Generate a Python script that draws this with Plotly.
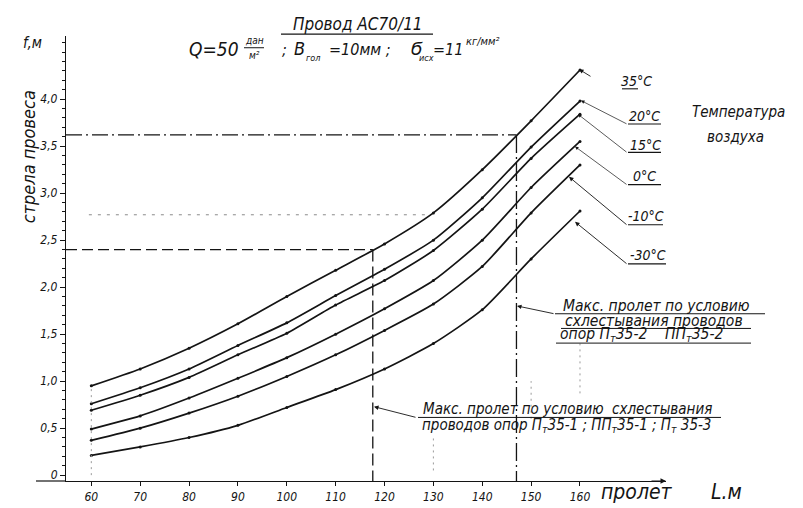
import plotly.graph_objects as go

# ---------------- data ----------------
spans = [60, 70, 80, 90, 100, 110, 120, 130, 140, 150, 160]
temp_labels = ["35°C", "20°C", "15°C", "0°C", "-10°C", "-30°C"]
sag_p35 = [0.95, 1.13, 1.35, 1.61, 1.90, 2.18, 2.46, 2.79, 3.25, 3.77, 4.31]
sag_p20 = [0.76, 0.93, 1.13, 1.38, 1.62, 1.91, 2.19, 2.50, 2.95, 3.49, 3.98]
sag_p15 = [0.69, 0.85, 1.04, 1.28, 1.51, 1.81, 2.07, 2.39, 2.83, 3.37, 3.84]
sag_0 = [0.49, 0.63, 0.82, 1.03, 1.25, 1.50, 1.77, 2.07, 2.50, 3.06, 3.55]
sag_m10 = [0.37, 0.50, 0.66, 0.84, 1.05, 1.28, 1.54, 1.82, 2.22, 2.79, 3.30]
sag_m30 = [0.21, 0.30, 0.40, 0.53, 0.72, 0.91, 1.13, 1.40, 1.76, 2.30, 2.81]

x_ticks = [60, 70, 80, 90, 100, 110, 120, 130, 140, 150, 160]
x_ticklabels = ["60", "70", "80", "90", "100", "110", "120", "130", "140", "150", "160"]
y_ticks = [0, 0.5, 1.0, 1.5, 2.0, 2.5, 3.0, 3.5, 4.0]
y_ticklabels = ["0", "0,5", "1,0", "1,5", "2,0", "2,5", "3,0", "3,5", "4,0"]

# max span limits (span, sag)
limit_span_a = 117.6
limit_sag_a = 2.40
limit_span_b = 147.0
limit_sag_b = 3.62
aux_span = 128.9
aux_sag = 2.77

# ---------------- layout helpers ----------------
W, H = 803, 508
L_, R_, T_, B_ = 58, 145, 28, 25
PW = W - L_ - R_
PH = H - T_ - B_
X_RANGE = [54.82, 177.6]
Y_RANGE = [-0.0624, 4.672]


def px(x):
    return (x - L_) / PW


def py(y):
    return (H - B_ - y) / PH


FONT = "DejaVu Sans Condensed, DejaVu Sans, sans-serif"
INK = "#141414"


def f(size, color=INK):
    return dict(family=FONT, size=size, color=color, style="italic")


fig = go.Figure()

series = [sag_p35, sag_p20, sag_p15, sag_0, sag_m10, sag_m30]
for name, vals in zip(temp_labels, series):
    fig.add_trace(go.Scatter(
        x=spans, y=vals, name=name, mode="lines+markers",
        line=dict(color=INK, width=1.7, shape="spline", smoothing=0.6),
        marker=dict(size=3, color=INK),
        showlegend=False, hoverinfo="skip"))

shapes = []
# reference lines
shapes.append(dict(type="line", xref="x", yref="y", x0=X_RANGE[0], x1=limit_span_b,
                   y0=limit_sag_b, y1=limit_sag_b,
                   line=dict(color=INK, width=1.1, dash="16px,4px,2px,4px")))
shapes.append(dict(type="line", xref="x", yref="y", x0=limit_span_b, x1=limit_span_b,
                   y0=limit_sag_b, y1=Y_RANGE[0],
                   line=dict(color=INK, width=1.3, dash="18px,4px,2px,4px")))
shapes.append(dict(type="line", xref="x", yref="y", x0=X_RANGE[0], x1=limit_span_a,
                   y0=limit_sag_a, y1=limit_sag_a,
                   line=dict(color=INK, width=1.3, dash="11px,5px")))
shapes.append(dict(type="line", xref="x", yref="y", x0=limit_span_a, x1=limit_span_a,
                   y0=limit_sag_a, y1=Y_RANGE[0],
                   line=dict(color=INK, width=1.3, dash="12px,5px")))
shapes.append(dict(type="line", xref="x", yref="y", x0=spans[0] - 0.5, x1=aux_span,
                   y0=aux_sag, y1=aux_sag,
                   line=dict(color="#8a8a8a", width=1, dash="3px,6px")))
# faint construction verticals
for xv, ya, yb in [(spans[0], 0, sag_p35[0]), (130, 0.05, 0.40), (160, 0.87, 1.40), (150, 0.60, 1.00)]:
    shapes.append(dict(type="line", xref="x", yref="y", x0=xv, x1=xv, y0=ya, y1=yb,
                       line=dict(color="#9a9a9a", width=1, dash="2px,4px")))

# x-axis extension to the left
shapes.append(dict(type="line", xref="paper", yref="paper", x0=px(28), x1=0, y0=0, y1=0,
                   line=dict(color=INK, width=1.2)))

# title underline
shapes.append(dict(type="line", xref="paper", yref="paper", x0=px(273), x1=px(425),
                   y0=py(26), y1=py(26), line=dict(color=INK, width=1.2)))
# fraction bar дан/м²
shapes.append(dict(type="line", xref="paper", yref="paper", x0=px(236), x1=px(256),
                   y0=py(40), y1=py(40), line=dict(color=INK, width=1)))

# legend underlines (pixel positions)
for x0, x1, yy in [(614, 630, 82), (620, 653, 118), (620, 653, 147), (620, 653, 180),
                   (620, 655, 221), (620, 658, 261)]:
    shapes.append(dict(type="line", xref="paper", yref="paper", x0=px(x0), x1=px(x1),
                       y0=py(yy), y1=py(yy), line=dict(color=INK, width=1.1)))

# note underlines
for x0, x1, yy in [(547, 757, 312), (553, 743, 327), (548, 743, 342), (410, 713, 418)]:
    shapes.append(dict(type="line", xref="paper", yref="paper", x0=px(x0), x1=px(x1),
                       y0=py(yy), y1=py(yy), line=dict(color=INK, width=1)))

ann = []


def text(s, x, y, size, xanchor="center", angle=0, color=INK):
    ann.append(dict(text=s, xref="paper", yref="paper", x=px(x), y=py(y),
                    xanchor=xanchor, yanchor="middle", showarrow=False,
                    font=f(size, color), textangle=angle))


def arrow(tip, tail, width=0.9, head=2):
    ann.append(dict(text="", xref="paper", yref="paper", x=px(tip[0]), y=py(tip[1]),
                    ax=tail[0] - tip[0], ay=tail[1] - tip[1], axref="pixel", ayref="pixel",
                    showarrow=True, arrowhead=head, arrowsize=1, arrowwidth=width,
                    arrowcolor=INK))


# title block
text("Провод АС70/11", 350, 16, 17)
text("Q=50", 206, 41, 19)
text("дан", 246, 33, 10)
text("м²", 246, 48, 10)
text(";", 276, 42, 16)
text("В", 291, 41, 18)
text("гол", 305, 50, 9)
text("=10мм ;", 352, 42, 16)
text("Ϭ", 409, 41, 18)
text("исх", 418, 51, 9)
text("=11", 440, 42, 16)
text("кг/мм²", 474, 34, 11)

# axis titles
text("f,м", 24, 35, 15)
text("стрела провеса", 20, 152, 18, angle=-90)
text("пролет", 629, 494, 21)
text("L.м", 718, 494, 21)

# temperature labels
text("35°C", 628, 74, 14)
text("20°C", 636, 110, 14)
text("15°C", 637, 139, 14)
text("0°C", 636, 171, 14)
text("-10°C", 638, 212, 14)
text("-30°C", 640, 252, 14)
text("Температура", 682, 106, 15, xanchor="left")
text("воздуха", 697, 131, 15, xanchor="left")

arrow((571, 62), (584, 70))
arrow((573, 94), (620, 118), 0.7)
arrow((570, 108), (620, 147), 0.7)
arrow((567, 141), (620, 180), 0.7)
arrow((561, 172), (620, 221), 0.9)
arrow((567, 218), (620, 261), 0.9)

# notes
text("Макс. пролет по условию", 553, 304, 15.5, xanchor="left")
text("схлестывания проводов", 555, 319, 15.5, xanchor="left")
text("опор П<sub>т</sub>35-2    ПП<sub>т</sub>35-2", 550, 334, 15.5, xanchor="left")
arrow((509, 304), (547, 312), 0.9)
text("Макс. пролет по условию  схлестывания", 413, 409, 15, xanchor="left")
text("проводов опор П<sub>т</sub>35-1 ; ПП<sub>т</sub>35-1 ; П<sub>т</sub> 35-3", 412, 426, 15, xanchor="left")
arrow((366, 407), (409, 418), 0.9)

# x-axis arrow head
ann.append(dict(text="", xref="paper", yref="paper", x=1.0, y=0, ax=-16, ay=0,
                axref="pixel", ayref="pixel", showarrow=True, arrowhead=2,
                arrowsize=1, arrowwidth=1.1, arrowcolor=INK))

fig.update_layout(
    width=W, height=H,
    margin=dict(l=L_, r=R_, t=T_, b=B_, pad=0),
    paper_bgcolor="white", plot_bgcolor="white",
    shapes=shapes, annotations=ann,
    xaxis=dict(range=X_RANGE, tickmode="array", tickvals=x_ticks, ticktext=x_ticklabels,
               showgrid=False, zeroline=False, showline=True, linecolor=INK, linewidth=1.2,
               ticks="outside", ticklen=4, tickcolor=INK, tickwidth=1,
               tickfont=f(12), fixedrange=True),
    yaxis=dict(range=Y_RANGE, tickmode="array", tickvals=y_ticks, ticktext=y_ticklabels,
               showgrid=False, zeroline=False, showline=True, linecolor=INK, linewidth=1.2,
               ticks="outside", ticklen=5, tickcolor=INK, tickwidth=1,
               minor=dict(tickmode="linear", tick0=0, dtick=0.1, ticks="outside",
                          ticklen=3, tickcolor=INK, showgrid=False),
               tickfont=f(12), fixedrange=True),
)

fig.write_html("out.html")
